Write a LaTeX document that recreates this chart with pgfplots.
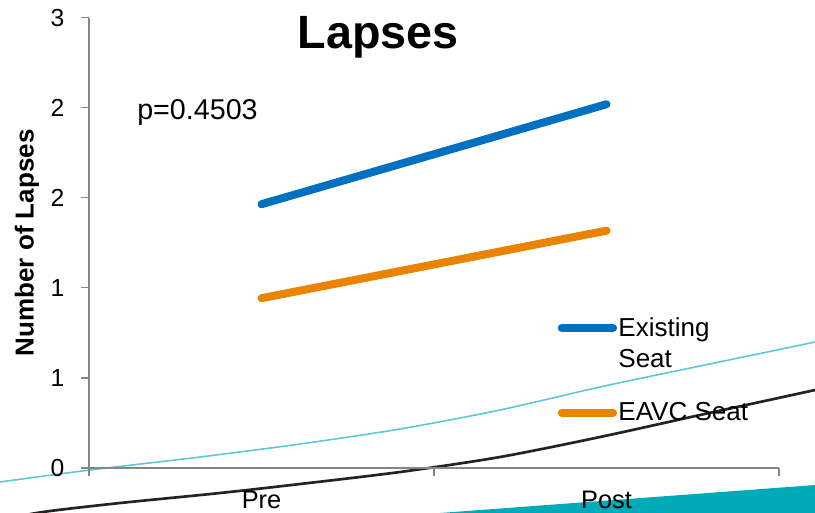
\documentclass[border=0pt]{standalone}
\usepackage{pgfplots}
\pgfplotsset{compat=1.18}
\usepackage{fontspec}
\setmainfont{Liberation Sans}
\definecolor{lineblue}{RGB}{0,112,192}
\definecolor{lineorange}{RGB}{233,131,0}
\definecolor{axisgray}{RGB}{134,134,134}
\definecolor{decocyan}{RGB}{96,200,212}
\definecolor{decodark}{RGB}{35,35,35}
\definecolor{decoteal}{RGB}{0,170,185}
\begin{document}
\begin{tikzpicture}
\useasboundingbox (0,0) rectangle (611.25pt,384pt);
\clip (0,0) rectangle (611.25pt,384pt);
% decorative background curves (pixel coordinates)
\begin{axis}[at={(0pt,0pt)}, anchor=south west, scale only axis,
  width=611.25pt, height=384pt, xmin=0, xmax=815, ymin=0, ymax=512,
  y dir=reverse, hide axis, clip=true]
\addplot[draw=none, fill=decoteal] coordinates {(440,513) (815,485) (815,520) (440,520)} -- cycle;
\addplot[decocyan, line width=1.2pt, smooth] coordinates {(-10,484) (0,482) (90,470) (200,457) (300,444) (400,429) (500,410) (600,387) (700,366) (815,342) (830,338)};
\addplot[decodark, line width=2pt, smooth] coordinates {(20,516) (50,511) (120,503) (220,493) (300,484) (400,472) (500,457) (600,437) (700,415) (815,390) (830,386)};
\end{axis}
\begin{axis}[
  at={(66.75pt,33pt)}, anchor=south west,
  scale only axis, width=517.5pt, height=337.8pt,
  xmin=-0.5, xmax=1.5, ymin=0, ymax=3,
  axis x line=bottom, axis y line=left,
  axis line style={-, draw=axisgray, line width=0.9pt},
  tick align=outside, major tick length=6pt,
  tick style={draw=axisgray, line width=0.9pt},
  xtick={-0.5,0.5,1.5}, xticklabels={},
  extra x ticks={0,1}, extra x tick labels={Pre,Post},
  extra x tick style={grid=none, major tick length=0pt, tick style={draw=none}},
  xticklabel style={font=\fontsize{19}{22}\selectfont, yshift=-13.5pt},
  ytick={0,0.6,1.2,1.8,2.4,3}, yticklabels={0,1,1,2,2,3},
  yticklabel style={font=\fontsize{18.5}{22}\selectfont, xshift=-9pt},
  /pgf/number format/assume math mode=true,
  ylabel={\bfseries Number of Lapses},
  ylabel style={at={(axis description cs:-0.0899,0.5)}, anchor=center,
    font=\fontsize{19.5}{23}\selectfont},
  legend cell align=left,
  legend style={at={(rel axis cs:0.679,0.338)}, anchor=north west, draw=none, fill=none,
    font=\fontsize{19.5}{23.3}\selectfont, row sep=23pt, inner sep=0pt,
    nodes={inner sep=1pt, align=left}},
  legend image code/.code={\draw[#1] (3pt,0pt) -- (41.5pt,0pt);},
  clip=false,
]
\addplot[lineblue, line width=6pt, line cap=round,
  legend image code/.code={\draw[lineblue, line width=6pt, line cap=round] (3pt,11.6pt) -- (41.5pt,11.6pt);}] coordinates {(0,1.757) (1,2.423)};
\addplot[lineorange, line width=6pt, line cap=round] coordinates {(0,1.131) (1,1.581)};
\legend{Existing\\Seat, EAVC Seat}
\node[anchor=base, font=\fontsize{35}{40}\selectfont\bfseries] at (rel axis cs:0.419,0.9325) {Lapses};
\node[anchor=base west, inner sep=0pt, font=\fontsize{21.5}{25}\selectfont] at (rel axis cs:0.0696,0.7727) {p=0.4503};
\end{axis}
\end{tikzpicture}
\end{document}
